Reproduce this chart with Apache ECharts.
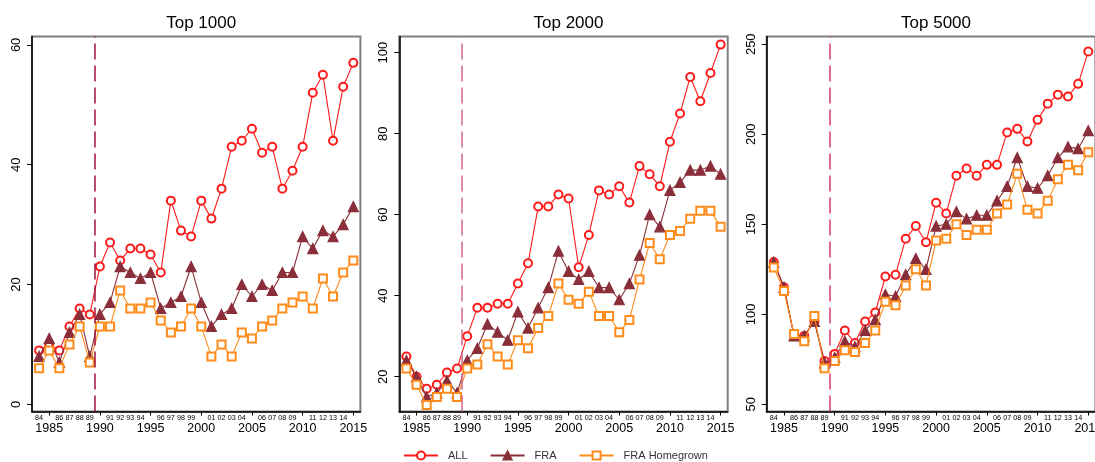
<!DOCTYPE html>
<html>
<head>
<meta charset="utf-8">
<script src="https://cdn.jsdelivr.net/npm/echarts@6/dist/echarts.min.js"></script>
<style>
html,body{margin:0;padding:0;background:#fff;}
#chart{width:1095px;height:462px;}
</style>
</head>
<body>
<div id="chart"></div>
<script>
// ---- data ----
const years = [1984,1985,1986,1987,1988,1989,1990,1991,1992,1993,1994,1995,1996,1997,1998,1999,
               2000,2001,2002,2003,2004,2005,2006,2007,2008,2009,2010,2011,2012,2013,2014,2015];
const panelTitles = ['Top 1000', 'Top 2000', 'Top 5000'];
const seriesNames = ['ALL', 'FRA', 'FRA Homegrown'];

const top1000All  = [9,10,9,13,16,15,23,27,24,26,26,25,22,34,29,28,34,31,36,43,44,46,42,43,36,39,43,52,55,44,53,57];
const top1000Fra  = [8,11,7,12,15,8,15,17,23,22,21,22,16,17,18,23,17,13,15,16,20,18,20,19,22,22,28,26,29,28,30,33];
const top1000Home = [6,9,6,10,13,7,13,13,19,16,16,17,14,12,13,16,13,8,10,8,12,11,13,14,16,17,18,16,21,18,22,24];

const top2000All  = [25,20,17,18,21,22,30,37,37,38,38,43,48,62,62,65,64,47,55,66,65,67,63,72,70,67,78,85,94,88,95,102];
const top2000Fra  = [24,20,15,16,19,16,24,27,33,31,29,36,32,37,42,51,46,44,46,42,42,39,43,50,60,57,66,68,71,71,72,70];
const top2000Home = [22,18,13,15,17,15,22,23,28,25,23,29,27,32,35,43,39,38,41,35,35,31,34,44,53,49,55,56,59,61,61,57];

const top5000All  = [129,115,88,88,96,74,78,91,84,96,101,121,122,142,149,140,162,156,177,181,177,183,183,201,203,196,208,217,222,221,228,246];
const top5000Fra  = [129,115,88,88,96,73,76,85,82,91,97,111,110,122,131,125,149,150,157,153,155,155,163,171,187,171,170,177,187,193,192,202];
const top5000Home = [126,113,89,85,99,70,74,80,79,84,91,107,105,116,125,116,141,142,150,144,147,147,156,161,178,158,156,163,175,183,180,190];

const yTicks1000 = [0, 20, 40, 60];
const yTicks2000 = [20, 40, 60, 80, 100];
const yTicks5000 = [50, 100, 150, 200, 250];
const bigYearLabels = [1985, 1990, 1995, 2000, 2005, 2010, 2015];
const smallYearLabels = years.filter(y => y % 5 !== 0);
const breakYear = 1989.5;

// ---- layout / style ----
const panels = [
  {title: panelTitles[0], data: [top1000All, top1000Fra, top1000Home], ticks: yTicks1000, left: 32,    right: 734.6, ymin: -1.2, ymax: 61.4, vcolor: '#A3103C'},
  {title: panelTitles[1], data: [top2000All, top2000Fra, top2000Home], ticks: yTicks2000, left: 399.3, right: 367.3, ymin: 11.4, ymax: 104.0, vcolor: '#D2678A'},
  {title: panelTitles[2], data: [top5000All, top5000Fra, top5000Home], ticks: yTicks5000, left: 766.7, right: -0.4,  ymin: 46.0, ymax: 254.3, vcolor: '#D43A63'}
];
const gridTop = 36.5, gridBottom = 50.5;
const xMin = 1983.3, xMax = 2015.7;
const colors = ['#FF1A1A', '#8A2F3A', '#FF8C1A'];
const symbols = ['emptyCircle', 'triangle', 'emptyRect'];
const symbolSizes = [8, 10, 8];
const FONT = 'Liberation Sans, Arial, sans-serif';

const grid = [], xAxis = [], yAxis = [], series = [], title = [];
panels.forEach((p, i) => {
  grid.push({left: p.left, right: p.right, top: gridTop, bottom: gridBottom, show: true,
             outerBoundsMode: 'none', containLabel: false,
             borderColor: '#7f7f7f', borderWidth: 2, backgroundColor: 'transparent'});
  const cx = p.left + (1095 - p.right - p.left) / 2;
  title.push({text: p.title, left: cx, top: 10, textAlign: 'center',
              textStyle: {fontFamily: FONT, fontSize: 17, fontWeight: 'normal', color: '#000'}});
  // main x axis: big labels + ticks at multiples of 5
  xAxis.push({type: 'value', gridIndex: i, min: xMin, max: xMax, position: 'bottom',
    axisLine: {show: true, onZero: false, lineStyle: {color: '#000', width: 1.5}},
    axisTick: {show: true, customValues: bigYearLabels, length: 4, lineStyle: {color: '#000', width: 1}},
    axisLabel: {show: true, customValues: bigYearLabels, margin: 11, fontSize: 12.5, color: '#000', fontFamily: FONT,
                hideOverlap: false, formatter: v => String(Math.round(v))},
    splitLine: {show: false}});
  // secondary x axis: small two-digit labels
  xAxis.push({type: 'value', gridIndex: i, min: xMin, max: xMax, position: 'bottom',
    axisLine: {show: false, onZero: false}, axisTick: {show: false},
    axisLabel: {show: true, customValues: smallYearLabels, margin: 3.5, fontSize: 7.2, color: '#000', fontFamily: FONT,
                hideOverlap: false, formatter: v => String(Math.round(v) % 100).padStart(2, '0')},
    splitLine: {show: false}});
  yAxis.push({type: 'value', gridIndex: i, min: p.ymin, max: p.ymax,
    axisLine: {show: true, onZero: false, lineStyle: {color: '#000', width: 1.5}},
    axisTick: {show: true, customValues: p.ticks, length: 5, lineStyle: {color: '#000', width: 1}},
    axisLabel: {show: true, customValues: p.ticks, rotate: 90, margin: 9, fontSize: 13, color: '#000', fontFamily: FONT,
                formatter: v => String(Math.round(v))},
    splitLine: {show: false}});
  p.data.forEach((arr, k) => {
    const s = {
      name: seriesNames[k], type: 'line', xAxisIndex: i * 2, yAxisIndex: i,
      data: years.map((y, j) => [y, arr[j]]),
      symbol: symbols[k], symbolSize: symbolSizes[k], showAllSymbol: true,
      lineStyle: {color: colors[k], width: 1.1},
      itemStyle: {color: colors[k], borderColor: colors[k], borderWidth: 1.2},
      emphasis: {disabled: true}, animation: false, z: 2 + k
    };
    if (k === 0) {
      s.markLine = {silent: true, symbol: 'none', animation: false,
        label: {show: false},
        lineStyle: {color: p.vcolor, type: [16, 6], width: 1.5},
        data: [{xAxis: breakYear}]};
    }
    series.push(s);
  });
});

const chart = echarts.init(document.getElementById('chart'), null, {renderer: 'canvas'});
chart.setOption({
  animation: false,
  backgroundColor: '#fff',
  title: title,
  grid: grid, xAxis: xAxis, yAxis: yAxis, series: series,
  legend: {data: seriesNames, left: 403, top: 450, padding: 0, itemWidth: 34, itemHeight: 10, itemGap: 22,
           textStyle: {fontFamily: FONT, fontSize: 11, color: '#333', padding: [0, 0, 0, 5]},
           selectedMode: false}
});
</script>
</body>
</html>
